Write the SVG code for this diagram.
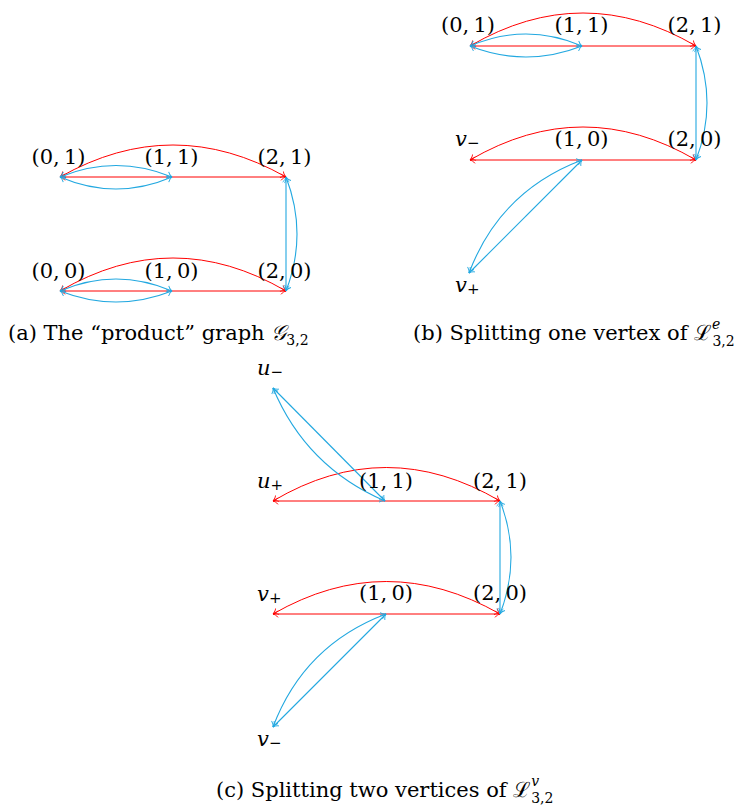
<svg xmlns="http://www.w3.org/2000/svg" width="743" height="805" viewBox="0 0 743 805" font-family="'DejaVu Serif', 'Liberation Serif', serif">
<style>
text{font-family:'DejaVu Serif','Liberation Serif',serif}
.lab{font-size:21px;fill:#000;text-anchor:middle}
.var{font-size:21px;font-style:italic;fill:#000}
.sub{font-size:15px;font-style:normal}
.cap{font-size:21px;fill:#000}
.ss{font-size:14px}
.r{fill:none;stroke:#ff0000;stroke-width:1;marker-start:url(#ar);marker-end:url(#ar)}
.b{fill:none;stroke:#22a8e0;stroke-width:1.1;marker-start:url(#ab);marker-end:url(#ab)}
</style>
<defs>
<marker id="ar" viewBox="-6 -5 7 10" refX="0" refY="0" markerWidth="7" markerHeight="10" markerUnits="userSpaceOnUse" orient="auto-start-reverse">
<path d="M-5,-3.4 C-3.5,-1.3 -1.2,-0.3 0,0 C-1.2,0.3 -3.5,1.3 -5,3.4" fill="none" stroke="#ff0000" stroke-width="0.9"/>
</marker>
<marker id="ab" viewBox="-6 -5 7 10" refX="0" refY="0" markerWidth="7" markerHeight="10" markerUnits="userSpaceOnUse" orient="auto-start-reverse">
<path d="M-5,-3.4 C-3.5,-1.3 -1.2,-0.3 0,0 C-1.2,0.3 -3.5,1.3 -5,3.4" fill="none" stroke="#22a8e0" stroke-width="0.9"/>
</marker>
</defs>

<g id="connectors">
<!-- panel a -->
<path class="r" d="M60,177 Q173,113 286,177"/>
<path class="r" d="M60,177 L286,177"/>
<path class="r" d="M60,291 Q173,225 286,291"/>
<path class="r" d="M60,291 L286,291"/>
<path class="b" d="M60,177 Q116,154 172,177"/>
<path class="b" d="M60,177 Q116,201 172,177"/>
<path class="b" d="M60,291 Q116,267 172,291"/>
<path class="b" d="M60,291 Q116,313 172,291"/>
<path class="b" d="M286,177 L286,291"/>
<path class="b" d="M286,177 Q308,234 286,291"/>
<!-- panel b -->
<path class="r" d="M470,46 Q583,-20 696,46"/>
<path class="r" d="M470,46 L696,46"/>
<path class="r" d="M470,160 Q583,94 696,160"/>
<path class="r" d="M470,160 L696,160"/>
<path class="b" d="M470,46 Q526,22 582,46"/>
<path class="b" d="M470,46 Q526,68 582,46"/>
<path class="b" d="M696,46 L696,160"/>
<path class="b" d="M696,46 Q718,103 696,160"/>
<path class="b" d="M469,273 L582,160"/>
<path class="b" d="M469,273 Q500,191 582,160"/>
<!-- panel c -->
<path class="r" d="M273,501 Q386,434 500,501"/>
<path class="r" d="M273,501 L500,501"/>
<path class="r" d="M273,614 Q386,549 500,614"/>
<path class="r" d="M273,614 L500,614"/>
<path class="b" d="M500,501 L500,614"/>
<path class="b" d="M500,501 Q522,557 500,614"/>
<path class="b" d="M273,388 L385,501"/>
<path class="b" d="M273,388 Q306,467 385,501"/>
<path class="b" d="M273,727 L386,614"/>
<path class="b" d="M273,727 Q304,645 386,614"/>
</g>

<g id="a-01"><text class="lab" x="58.5" y="164">(0,&#8201;1)</text></g>
<g id="a-11"><text class="lab" x="171.5" y="164">(1,&#8201;1)</text></g>
<g id="a-21"><text class="lab" x="284.5" y="164">(2,&#8201;1)</text></g>
<g id="a-00"><text class="lab" x="58.5" y="277.5">(0,&#8201;0)</text></g>
<g id="a-10"><text class="lab" x="171.5" y="277.5">(1,&#8201;0)</text></g>
<g id="a-20"><text class="lab" x="284.5" y="277.5">(2,&#8201;0)</text></g>

<g id="b-01"><text class="lab" x="468" y="32">(0,&#8201;1)</text></g>
<g id="b-11"><text class="lab" x="581.5" y="32">(1,&#8201;1)</text></g>
<g id="b-21"><text class="lab" x="694.5" y="32">(2,&#8201;1)</text></g>
<g id="b-vminus"><text class="var" x="455" y="146">v<tspan class="sub" dy="2">−</tspan></text></g>
<g id="b-10"><text class="lab" x="581.5" y="146">(1,&#8201;0)</text></g>
<g id="b-20"><text class="lab" x="694.5" y="146">(2,&#8201;0)</text></g>
<g id="b-vplus"><text class="var" x="455" y="292">v<tspan class="sub" dy="2">+</tspan></text></g>

<g id="c-uminus"><text class="var" x="257" y="375">u<tspan class="sub" dy="2">−</tspan></text></g>
<g id="c-uplus"><text class="var" x="257" y="488">u<tspan class="sub" dy="2">+</tspan></text></g>
<g id="c-11"><text class="lab" x="386" y="487.5">(1,&#8201;1)</text></g>
<g id="c-21"><text class="lab" x="500" y="487.5">(2,&#8201;1)</text></g>
<g id="c-vplus"><text class="var" x="257" y="601">v<tspan class="sub" dy="2">+</tspan></text></g>
<g id="c-10"><text class="lab" x="386" y="600">(1,&#8201;0)</text></g>
<g id="c-20"><text class="lab" x="500" y="600">(2,&#8201;0)</text></g>
<g id="c-vminus"><text class="var" x="257" y="746">v<tspan class="sub" dy="2">−</tspan></text></g>

<g id="captions">
<text class="cap" x="8" y="340">(a) The “product” graph <tspan font-style="italic">𝒢</tspan><tspan class="ss" dy="5">3,2</tspan></text>
<text class="cap" x="413" y="340">(b) Splitting one vertex of <tspan>ℒ</tspan><tspan class="ss" font-style="italic" dy="-11">e</tspan><tspan class="ss" dx="-8" dy="17">3,2</tspan></text>
<text class="cap" x="216" y="797">(c) Splitting two vertices of <tspan>ℒ</tspan><tspan class="ss" font-style="italic" dy="-11">v</tspan><tspan class="ss" dx="-8" dy="17">3,2</tspan></text>
</g>
</svg>
